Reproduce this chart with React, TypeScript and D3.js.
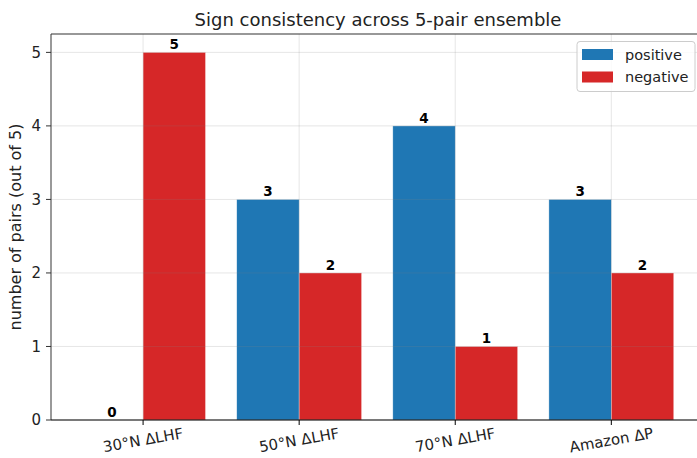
import React from "react";
import * as d3 from "d3";

const categories = ["30°N ΔLHF", "50°N ΔLHF", "70°N ΔLHF", "Amazon ΔP"];
const positive = [0, 3, 4, 3];
const negative = [5, 2, 1, 2];
const yTicks = [0, 1, 2, 3, 4, 5];

const series = [
  { name: "positive", values: positive, color: "#1f77b4", offset: -0.2 },
  { name: "negative", values: negative, color: "#d62728", offset: 0.2 },
];

const W = 697, H = 458;
const margin = { top: 34, left: 51, bottom: 420, right: 703.4 };
const font = "DejaVu Sans, sans-serif";

export default function App() {
  const x = d3.scaleLinear().domain([-0.59, 3.59]).range([margin.left, margin.right]);
  const y = d3.scaleLinear().domain([0, 5.25]).range([margin.bottom, margin.top]);
  const barW = x(0.4) - x(0);

  return (
    <svg width={W} height={H} style={{ position: "absolute", left: 0, top: 0 }} fontFamily={font}>
      <rect width={W} height={H} fill="#fff" />
      {series.map((s) =>
        s.values.map((v, i) => (
          <rect
            key={s.name + i}
            x={x(i + s.offset) - barW / 2}
            y={y(v)}
            width={barW}
            height={y(0) - y(v)}
            fill={s.color}
            stroke="#fff"
            strokeOpacity={0.6}
            strokeWidth={0.6}
          />
        ))
      )}
      {/* grid drawn over bars, translucent */}
      <g stroke="#808080" strokeOpacity={0.2} strokeWidth={1}>
        {categories.map((c, i) => (
          <line key={c} x1={x(i)} x2={x(i)} y1={margin.top} y2={margin.bottom} />
        ))}
        {yTicks.map((t) => (
          <line key={t} x1={margin.left} x2={margin.right} y1={y(t)} y2={y(t)} />
        ))}
      </g>
      {series.map((s) =>
        s.values.map((v, i) => (
          <text
            key={s.name + "l" + i}
            x={x(i + s.offset)}
            y={y(v) - 3}
            textAnchor="middle"
            fontSize={13.5}
            fontWeight="bold"
            fill="#000"
          >
            {v}
          </text>
        ))
      )}
      {/* spines */}
      <line x1={margin.left} x2={margin.left} y1={margin.top} y2={margin.bottom} stroke="#555" strokeWidth={1.2} />
      <line x1={margin.left} x2={margin.right} y1={margin.top} y2={margin.top} stroke="#333" strokeWidth={1.2} />
      <line x1={margin.left} x2={margin.right} y1={margin.bottom} y2={margin.bottom} stroke="#000" strokeWidth={1.2} />
      {/* y ticks */}
      {yTicks.map((t) => (
        <g key={t}>
          <line x1={margin.left - 5} x2={margin.left} y1={y(t)} y2={y(t)} stroke="#333" />
          <text x={margin.left - 10} y={y(t)} dy="0.35em" textAnchor="end" fontSize={15} fill="#222">
            {t}
          </text>
        </g>
      ))}
      {/* x ticks */}
      {categories.map((c, i) => (
        <g key={c}>
          <line x1={x(i)} x2={x(i)} y1={margin.bottom} y2={margin.bottom + 5} stroke="#000" />
          <text
            transform={`translate(${x(i)},${margin.bottom + 20}) rotate(-10)`}
            textAnchor="middle"
            dy="0.35em"
            fontSize={15}
            fill="#222"
          >
            {c}
          </text>
        </g>
      ))}
      <text
        transform={`translate(21,${(margin.top + margin.bottom) / 2}) rotate(-90)`}
        textAnchor="middle"
        fontSize={16}
        fill="#222"
      >
        number of pairs (out of 5)
      </text>
      <text x={378} y={26} textAnchor="middle" fontSize={18} fill="#222">
        Sign consistency across 5-pair ensemble
      </text>
      {/* legend */}
      <g>
        <rect x={577} y={41.5} width={118} height={50} rx={3} fill="#fff" fillOpacity={0.8} stroke="#ccc" />
        {series.map((s, k) => (
          <g key={s.name}>
            <rect x={582} y={49 + k * 22.5} width={31} height={11} fill={s.color} />
            <text x={625} y={54.5 + k * 22.5} dy="0.35em" fontSize={14.5} fill="#222">
              {s.name}
            </text>
          </g>
        ))}
      </g>
    </svg>
  );
}
